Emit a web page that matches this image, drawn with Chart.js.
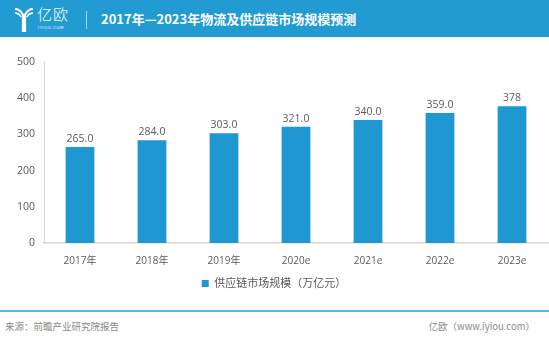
<!DOCTYPE html>
<html>
<head>
<meta charset="utf-8">
<script src="https://cdn.jsdelivr.net/npm/chart.js@4/dist/chart.umd.min.js"></script>
<style>
  html, body { margin:0; padding:0; background:#fff; width:549px; height:338px; overflow:hidden; }
  body { position:relative; font-family:"Noto Sans CJK SC","Open Sans",sans-serif; }
  #hdr { position:absolute; left:0; top:0; width:549px; height:37px; background:#229bd3; }
  #logoY { position:absolute; left:14px; top:8px; }
  #logoTxt { position:absolute; left:37px; top:5px; color:#fff; font-size:15px; font-weight:300; letter-spacing:1px; line-height:18px; }
  #logoSub { position:absolute; left:38px; top:25px; color:#e6f4fb; font-size:4px; letter-spacing:0.5px; line-height:5px; font-family:"DejaVu Sans",sans-serif; }
  #sep { position:absolute; left:86px; top:11px; width:1px; height:18px; background:rgba(255,255,255,0.6); }
  #title { position:absolute; left:101px; top:9px; color:#fff; font-size:13px; font-weight:bold; line-height:20px; white-space:nowrap; }
  #wrap { position:absolute; left:0; top:40px; width:549px; height:259px; }
  #line { position:absolute; left:0; top:310px; width:549px; height:2px; background:#5cb7dd; }
  #src { position:absolute; left:5px; top:319px; color:#8a8a8a; font-size:9.5px; line-height:14px; }
  #site { position:absolute; right:14px; top:319px; color:#8a8a8a; font-size:9.5px; line-height:14px; }
</style>
</head>
<body>
<div id="hdr">
  <svg id="logoY" width="20" height="24" viewBox="0 0 20 24">
    <path d="M1 1 Q6 1 9 7 L9 23 L11 23 L11 7 Q14 1 19 1" fill="none" stroke="#fff" stroke-width="2.2"/>
    <path d="M1 5 Q5 5 7 9" fill="none" stroke="#fff" stroke-width="1.6"/>
    <path d="M19 5 Q15 5 13 9" fill="none" stroke="#fff" stroke-width="1.6"/>
  </svg>
  <div id="logoTxt">亿欧</div>
  <div id="logoSub">IYIOU.COM</div>
  <div id="sep"></div>
  <div id="title">2017年—2023年物流及供应链市场规模预测</div>
</div>
<div id="wrap"><canvas id="c"></canvas></div>
<div id="line"></div>
<div id="src">来源：前瞻产业研究院报告</div>
<div id="site">亿欧（www.iyiou.com）</div>
<script>
const categories = ["2017年","2018年","2019年","2020e","2021e","2022e","2023e"];
const marketSize = [265, 284, 303, 321, 340, 359, 378];
const valueLabels = ["265.0","284.0","303.0","321.0","340.0","359.0","378"];
const yTicks = [0, 100, 200, 300, 400, 500];
const seriesName = "供应链市场规模（万亿元）";

const FONT = '"Open Sans","Noto Sans CJK SC",sans-serif';
const TXT = '#5a5a5a';

const valuePlugin = {
  id: 'valueLabels',
  afterDatasetsDraw(chart) {
    const ctx = chart.ctx;
    const meta = chart.getDatasetMeta(0);
    ctx.save();
    ctx.font = '10.5px ' + FONT;
    ctx.fillStyle = TXT;
    ctx.textAlign = 'center';
    ctx.textBaseline = 'bottom';
    meta.data.forEach((bar, i) => {
      ctx.fillText(valueLabels[i], bar.x, bar.y - 3);
    });
    ctx.restore();
  }
};

new Chart(document.getElementById('c'), {
  type: 'bar',
  data: {
    labels: categories,
    datasets: [{
      label: seriesName,
      data: marketSize,
      backgroundColor: '#1f97d1',
      borderWidth: 0,
      categoryPercentage: 1,
      barPercentage: 0.4
    }]
  },
  options: {
    responsive: true,
    maintainAspectRatio: false,
    animation: false,
    layout: { padding: { top: 22, right: 1, left: 0, bottom: 0 } },
    plugins: {
      tooltip: { enabled: false },
      legend: {
        position: 'bottom',
        labels: {
          boxWidth: 7, boxHeight: 7, padding: 4,
          color: TXT,
          font: { size: 11, family: FONT }
        }
      }
    },
    scales: {
      x: {
        grid: { display: false, drawTicks: false },
        border: { color: '#d9d9d9', width: 1.5 },
        ticks: { color: TXT, font: { size: 10, family: FONT }, padding: 12, maxRotation: 0 },
        afterFit(s) { s.height = 31; }
      },
      y: {
        min: 0, max: 500,
        afterBuildTicks(s) { s.ticks = yTicks.map(v => ({ value: v })); },
        grid: { display: false, drawTicks: false },
        border: { color: '#d9d9d9', width: 1 },
        ticks: { color: TXT, font: { size: 10.5, family: FONT }, padding: 9 },
        afterFit(s) { s.width = 44; }
      }
    }
  },
  plugins: [valuePlugin]
});
</script>
</body>
</html>
